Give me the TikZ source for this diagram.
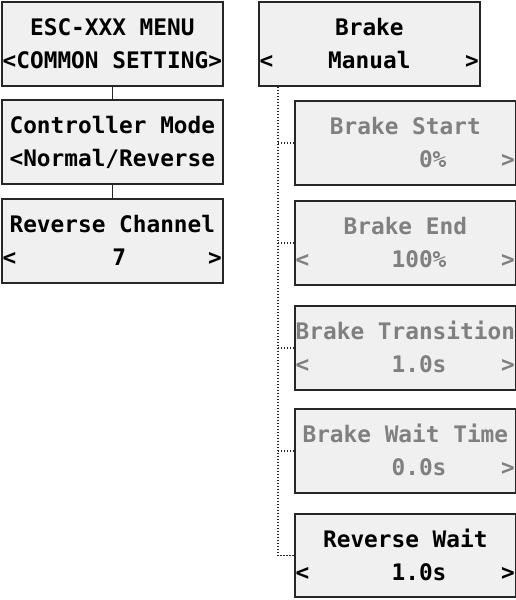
\documentclass[tikz,border=0pt]{standalone}
\usepackage{fontspec}
\newfontfamily\lcdfont{DejaVu Sans Mono}
\usetikzlibrary{calc}
\definecolor{boxfill}{HTML}{F0F0F0}
\definecolor{boxline}{HTML}{262626}
\definecolor{dimtext}{HTML}{808080}
\tikzset{
  lcdbox/.style={draw=boxline, line width=1.7pt, fill=boxfill, anchor=north west,
    minimum width=221pt, minimum height=84pt, inner sep=0pt},
  txt/.style={inner sep=0pt, font=\lcdfont\bfseries\fontsize{22.76}{27}\selectfont, text=black},
  dim/.style={text=dimtext},
  solidlink/.style={draw=boxline, line width=1.6pt},
  dotlink/.style={draw=boxline, line width=1.6pt, dash pattern=on 1.4pt off 1.6pt}
}
\begin{document}
\begin{tikzpicture}[x=1pt,y=-1pt]
\useasboundingbox (0,0) rectangle (516,600);
% left column
\node[lcdbox] (l1) at (1,1) {};
\node[lcdbox] (l2) at (1,99) {};
\node[lcdbox] (l3) at (1,198) {};
\draw[solidlink] (l1.south) -- (l2.north);
\draw[solidlink] (l2.south) -- (l3.north);
\node[txt, anchor=base] (l1a) at ($(l1.north)+(0,34)$) {ESC-XXX MENU};
\node[txt, anchor=base] (l1b) at ($(l1.north)+(0,67)$) {<COMMON SETTING>};
\node[txt, anchor=base] (l2a) at ($(l2.north)+(0,34)$) {Controller Mode};
\node[txt, anchor=base] (l2b) at ($(l2.north)+(0,67)$) {<Normal/Reverse};
\node[txt, anchor=base] (l3a) at ($(l3.north)+(0,34)$) {Reverse Channel};
\node[txt, anchor=base west] (l3b) at ($(l3.north west)+(1.5,67)$) {<};
\node[txt, anchor=base west] (l3c) at ($(l3.north west)+(1.5+8*13.7,67)$) {7};
\node[txt, anchor=base west] (l3d) at ($(l3.north west)+(1.5+15*13.7,67)$) {>};
% right column
\node[lcdbox] (r0) at (258,1) {};
\node[txt, anchor=base] (r0a) at ($(r0.north)+(0,34)$) {Brake};
\node[txt, anchor=base west] (r0b) at ($(r0.north west)+(1.5,67)$) {<};
\node[txt, anchor=base] (r0c) at ($(r0.north)+(0,67)$) {Manual};
\node[txt, anchor=base west] (r0d) at ($(r0.north west)+(1.5+15*13.7,67)$) {>};
\node[lcdbox] (s1) at (294,100) {};
\node[lcdbox] (s2) at (294,200) {};
\node[lcdbox] (s3) at (294,305) {};
\node[lcdbox] (s4) at (294,408) {};
\node[lcdbox, minimum height=83pt] (s5) at (294,513) {};
% s1
\node[txt, dim, anchor=base] (s1a) at ($(s1.north)+(0,34)$) {Brake Start};
\node[txt, dim, anchor=base west] (s1b) at ($(s1.north west)+(1.5+9*13.7,67)$) {0\%};
\node[txt, dim, anchor=base west] (s1c) at ($(s1.north west)+(1.5+15*13.7,67)$) {>};
% s2
\node[txt, dim, anchor=base] (s2a) at ($(s2.north)+(0,34)$) {Brake End};
\node[txt, dim, anchor=base west] (s2b) at ($(s2.north west)+(1.5,67)$) {<};
\node[txt, dim, anchor=base west] (s2c) at ($(s2.north west)+(1.5+7*13.7,67)$) {100\%};
\node[txt, dim, anchor=base west] (s2d) at ($(s2.north west)+(1.5+15*13.7,67)$) {>};
% s3
\node[txt, dim, anchor=base] (s3a) at ($(s3.north)+(0,34)$) {Brake Transition};
\node[txt, dim, anchor=base west] (s3b) at ($(s3.north west)+(1.5,67)$) {<};
\node[txt, dim, anchor=base west] (s3c) at ($(s3.north west)+(1.5+7*13.7,67)$) {1.0s};
\node[txt, dim, anchor=base west] (s3d) at ($(s3.north west)+(1.5+15*13.7,67)$) {>};
% s4
\node[txt, dim, anchor=base] (s4a) at ($(s4.north)+(0,34)$) {Brake Wait Time};
\node[txt, dim, anchor=base west] (s4b) at ($(s4.north west)+(1.5+7*13.7,67)$) {0.0s};
\node[txt, dim, anchor=base west] (s4c) at ($(s4.north west)+(1.5+15*13.7,67)$) {>};
% s5
\node[txt, anchor=base] (s5a) at ($(s5.north)+(0,34)$) {Reverse Wait};
\node[txt, anchor=base west] (s5b) at ($(s5.north west)+(1.5,67)$) {<};
\node[txt, anchor=base west] (s5c) at ($(s5.north west)+(1.5+7*13.7,67)$) {1.0s};
\node[txt, anchor=base west] (s5d) at ($(s5.north west)+(1.5+15*13.7,67)$) {>};
% dotted tree
\coordinate (trunk) at ($(r0.south west)+(20,0)$);
\draw[dotlink] (trunk) |- (s5.west);
\foreach \s in {s1,s2,s3,s4} {
  \draw[dotlink] (trunk |- \s.west) -- (\s.west);
}
\end{tikzpicture}
\end{document}
